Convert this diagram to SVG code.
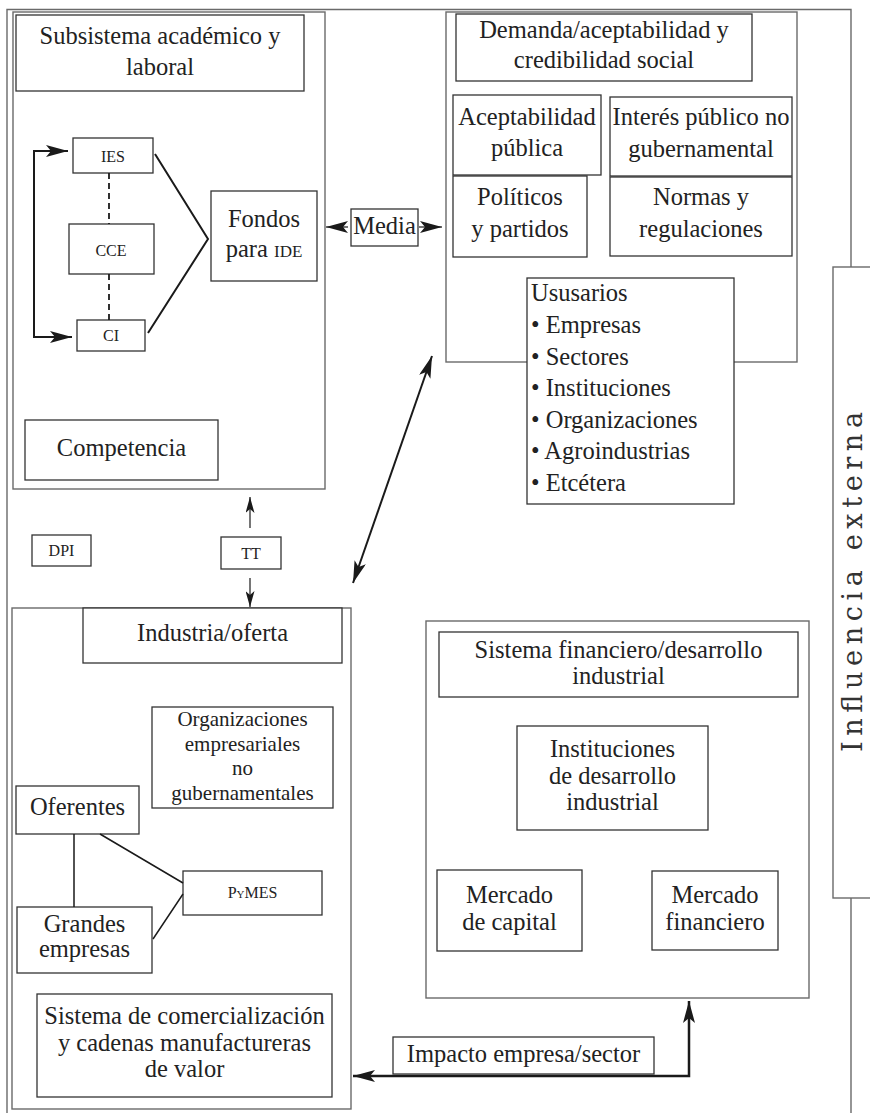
<svg xmlns="http://www.w3.org/2000/svg" width="870" height="1113" viewBox="0 0 870 1113">
<style>
.frame{fill:none;stroke:#6a6a6a;stroke-width:1.4}
.cont{fill:#fff;stroke:#6a6a6a;stroke-width:1.4}
.box{fill:#fff;stroke:#333;stroke-width:1.3}
.t{font-family:"Liberation Serif","Times New Roman",serif;font-size:24.5px;fill:#222;text-anchor:middle}
.tl{text-anchor:start}
.sm{font-size:16px}
.conn{fill:none;stroke:#1a1a1a;stroke-width:2}
.thin{stroke-width:1.2}
.dash{stroke-width:1.8;stroke-dasharray:6 4}
.ext{font-family:"DejaVu Serif","Liberation Serif",serif;font-size:27px;fill:#333;text-anchor:middle}
</style>
<defs>
<marker id="ah" viewBox="0 0 22 12" refX="22" refY="6" markerWidth="22" markerHeight="12" markerUnits="userSpaceOnUse" orient="auto-start-reverse">
<path d="M0,0 L22,6 L0,12 L5,6 z" fill="#1a1a1a"/>
</marker>
<marker id="ahs" viewBox="0 0 16 9" refX="16" refY="4.5" markerWidth="16" markerHeight="9" markerUnits="userSpaceOnUse" orient="auto-start-reverse">
<path d="M0,0 L16,4.5 L0,9 L4,4.5 z" fill="#1a1a1a"/>
</marker>
</defs>

<g id="outer-frame">
<path class="frame" d="M7,1113 L7,9.5 L851,9.5 L851,267 M851,898 L851,1113"/>
</g>

<g id="influencia-externa">
<rect class="cont" x="833" y="267" width="50" height="631"/>
<text class="ext" transform="translate(862,582) rotate(-90)" textLength="340" lengthAdjust="spacing">Influencia externa</text>
</g>

<g id="subsistema">
<rect class="cont" x="13" y="12" width="312" height="477"/>
<g id="subsistema-title">
<rect class="box" x="16" y="15" width="288" height="76"/>
<text class="t" x="160" y="44">Subsistema académico y</text>
<text class="t" x="160" y="75">laboral</text>
</g>
<g id="ies"><rect class="box" x="73" y="138" width="80" height="35"/><text class="t sm" x="113" y="162">IES</text></g>
<g id="cce"><rect class="box" x="69" y="224" width="85" height="50"/><text class="t sm" x="111" y="256">CCE</text></g>
<g id="ci"><rect class="box" x="77" y="320" width="68" height="31"/><text class="t sm" x="111" y="341">CI</text></g>
<g id="fondos"><rect class="box" x="211" y="191" width="106" height="90"/>
<text class="t" x="264" y="227">Fondos</text>
<text class="t" x="264" y="257">para <tspan font-size="17">IDE</tspan></text></g>
<g id="competencia"><rect class="box" x="25" y="420" width="193" height="60"/><text class="t" x="121.5" y="456">Competencia</text></g>
</g>

<g id="media"><rect class="box" x="351" y="209" width="67" height="37"/><text class="t" x="384.5" y="234">Media</text></g>

<g id="demanda">
<rect class="cont" x="446" y="12" width="351" height="350"/>
<g id="demanda-title"><rect class="box" x="456" y="14" width="296" height="67"/>
<text class="t" x="604" y="38">Demanda/aceptabilidad y</text>
<text class="t" x="604" y="68">credibilidad social</text></g>
<g id="aceptabilidad"><rect class="box" x="453" y="95" width="148" height="80"/>
<text class="t" x="527" y="125">Aceptabilidad</text><text class="t" x="527" y="156">pública</text></g>
<g id="interes"><rect class="box" x="610" y="97" width="182" height="79"/>
<text class="t" x="701" y="125">Interés público no</text><text class="t" x="701" y="157">gubernamental</text></g>
<g id="politicos"><rect class="box" x="453" y="176" width="134" height="81"/>
<text class="t" x="520" y="205">Políticos</text><text class="t" x="520" y="237">y partidos</text></g>
<g id="normas"><rect class="box" x="610" y="177" width="182" height="79"/>
<text class="t" x="701" y="205">Normas y</text><text class="t" x="701" y="237">regulaciones</text></g>
<g id="usuarios"><rect class="box" x="527" y="278" width="207" height="226"/>
<text class="t tl" x="531" y="301">Ususarios</text>
<text class="t tl" x="531" y="333">• Empresas</text>
<text class="t tl" x="531" y="365">• Sectores</text>
<text class="t tl" x="531" y="396">• Instituciones</text>
<text class="t tl" x="531" y="428">• Organizaciones</text>
<text class="t tl" x="531" y="459">• Agroindustrias</text>
<text class="t tl" x="531" y="491">• Etcétera</text></g>
</g>

<g id="dpi"><rect class="box" x="32" y="535" width="59" height="31"/><text class="t sm" x="61.5" y="556">DPI</text></g>
<g id="tt"><rect class="box" x="221" y="537" width="60" height="32"/><text class="t sm" x="251" y="559">TT</text></g>

<g id="industria">
<rect class="cont" x="12" y="608" width="339" height="501"/>
<g id="industria-title"><rect class="box" x="83" y="608" width="259" height="55"/><text class="t" x="212.5" y="641">Industria/oferta</text></g>
<g id="organizaciones"><rect class="box" x="152" y="707" width="181" height="101"/>
<text class="t" style="font-size:21px" x="242.5" y="726">Organizaciones</text>
<text class="t" style="font-size:21px" x="242.5" y="750.5">empresariales</text>
<text class="t" style="font-size:21px" x="242.5" y="775">no</text>
<text class="t" style="font-size:21px" x="242.5" y="799.5">gubernamentales</text></g>
<g id="oferentes"><rect class="box" x="16" y="786" width="123" height="48"/><text class="t" x="77.5" y="815">Oferentes</text></g>
<g id="grandes"><rect class="box" x="17" y="907" width="135" height="66"/>
<text class="t" x="84.5" y="932">Grandes</text><text class="t" x="84.5" y="957">empresas</text></g>
<g id="pymes"><rect class="box" x="183" y="871" width="139" height="44"/><text class="t sm" x="252.5" y="898" style="font-variant:small-caps">PyMES</text></g>
<g id="comercializacion"><rect class="box" x="37" y="994" width="295" height="103"/>
<text class="t" x="184.5" y="1024">Sistema de comercialización</text>
<text class="t" x="184.5" y="1051">y cadenas manufactureras</text>
<text class="t" x="184.5" y="1077">de valor</text></g>
</g>

<g id="financiero">
<rect class="cont" x="426" y="621" width="383" height="377"/>
<g id="financiero-title"><rect class="box" x="439" y="632" width="359" height="65"/>
<text class="t" x="618.5" y="658">Sistema financiero/desarrollo</text>
<text class="t" x="618.5" y="684">industrial</text></g>
<g id="instituciones"><rect class="box" x="517" y="726" width="191" height="104"/>
<text class="t" x="612.5" y="757">Instituciones</text>
<text class="t" x="612.5" y="784">de desarrollo</text>
<text class="t" x="612.5" y="810">industrial</text></g>
<g id="mercado-capital"><rect class="box" x="437" y="870" width="145" height="81"/>
<text class="t" x="509.5" y="903">Mercado</text><text class="t" x="509.5" y="930">de capital</text></g>
<g id="mercado-financiero"><rect class="box" x="652" y="871" width="126" height="79"/>
<text class="t" x="715" y="903">Mercado</text><text class="t" x="715" y="930">financiero</text></g>
</g>

<g id="impacto"><rect class="box" x="393" y="1037" width="261" height="37"/><text class="t" x="523.5" y="1062">Impacto empresa/sector</text></g>

<g id="connectors">
<path class="conn" d="M68,151 L34,151 L34,337 L72,337" marker-start="url(#ah)" marker-end="url(#ah)"/>
<path class="conn dash" d="M109,173 L109,224 M109,274 L109,320"/>
<path class="conn" d="M155,154 L208,239 L148,333"/>
<path class="conn thin" d="M348,227 L326,227" marker-end="url(#ah)"/>
<path class="conn thin" d="M419,227 L442,227" marker-end="url(#ah)"/>
<path class="conn" d="M432,356 L353,583" marker-start="url(#ah)" marker-end="url(#ah)"/>
<path class="conn thin" d="M250,528 L250,497" marker-end="url(#ahs)"/>
<path class="conn thin" d="M250,578 L250,607" marker-end="url(#ahs)"/>
<path class="conn" style="stroke-width:1.5" d="M74,834 L74,907 M100,834 L183,883 M153,939 L183,894"/>
<path class="conn" style="stroke-width:2.5" d="M353,1076 L689,1076 L689,1001" marker-start="url(#ah)" marker-end="url(#ah)"/>
</g>
</svg>
